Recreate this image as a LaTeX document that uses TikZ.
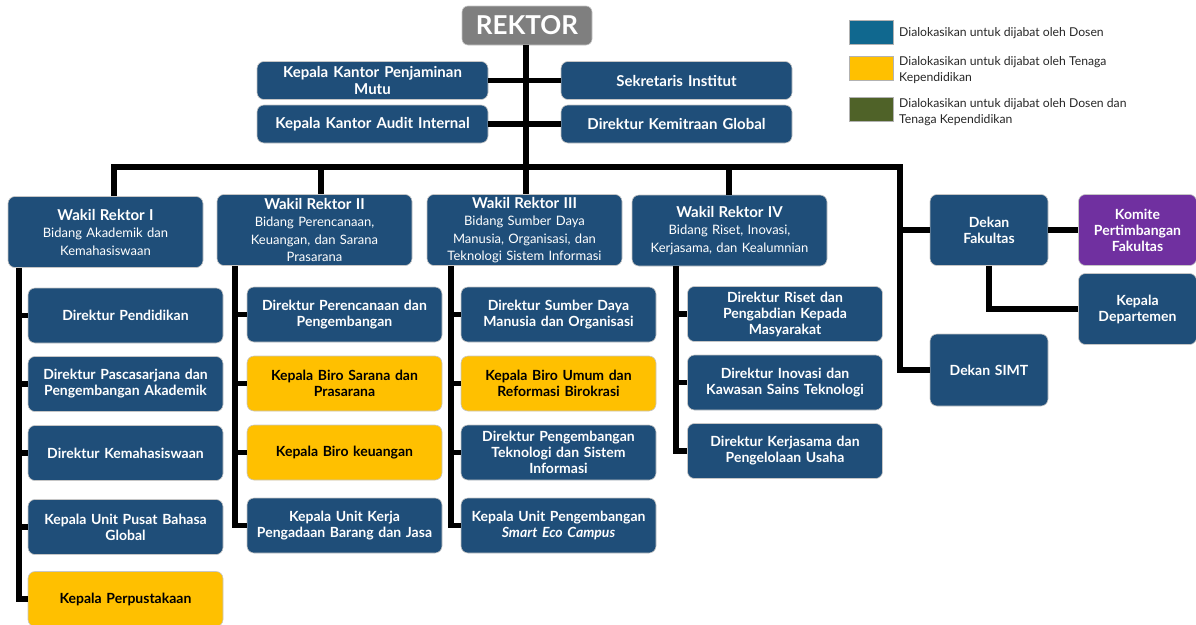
\documentclass[tikz,border=0pt]{standalone}
\usepackage{fontspec}
\setmainfont{Lato}
\definecolor{navy}{HTML}{1F4E79}
\definecolor{emas}{HTML}{FFC000}
\definecolor{ungu}{HTML}{7030A0}
\definecolor{abu}{HTML}{7F7F7F}
\definecolor{legbiru}{HTML}{10688F}
\definecolor{legzaitun}{HTML}{4F6228}
\begin{document}
\begin{tikzpicture}[x=1pt,y=-1pt,
  box/.style={draw=gray!45, line width=0.6pt, rounded corners=7pt, fill=navy, text=white,
    align=center, inner sep=0pt, font=\bfseries\fontsize{14}{16}\selectfont},
  unit/.style={box, minimum width=195pt, minimum height=55pt, text width=190pt},
  staf/.style={unit, fill=emas, text=black},
  wakil/.style={box, minimum width=195pt, minimum height=71pt, text width=190pt,
    font=\fontsize{13}{17.5}\selectfont},
  dekan/.style={box, minimum width=118pt, minimum height=71pt, text width=112pt},
  kantor/.style={box, minimum width=231pt, minimum height=38pt, text width=225pt,
    font=\bfseries\fontsize{15}{17}\selectfont},
  conn/.style={line width=5.5pt},
  legbox/.style={draw=gray!60, line width=0.6pt, minimum width=44pt, minimum height=24pt, inner sep=0pt},
  legtext/.style={anchor=west, align=left, inner sep=0pt, text=black!85,
    font=\fontsize{12.2}{16}\selectfont}
]
\useasboundingbox (0,0) rectangle (1196,624);

% pimpinan
\node[box, fill=abu, minimum width=130pt, minimum height=39pt, rounded corners=6pt,
  font=\bfseries\fontsize{26}{28}\selectfont] (rektor) at (527,25.5) {REKTOR};

\node[kantor] (kkpm) at (372.5,80.5) {Kepala Kantor Penjaminan\\Mutu};
\node[kantor] (kkai) at (372.5,124) {Kepala Kantor Audit Internal};
\node[kantor] (sekr) at (676.5,80.5) {Sekretaris Institut};
\node[kantor] (dkg)  at (676.5,124) {Direktur Kemitraan Global};

% wakil rektor
\node[wakil] (wr1) at (105.5,232) {{\bfseries\fontsize{15}{17.5}\selectfont Wakil Rektor I}\\Bidang Akademik dan\\Kemahasiswaan};
\node[wakil] (wr2) at (314.5,230) {{\bfseries\fontsize{15}{17.5}\selectfont Wakil Rektor II}\\Bidang Perencanaan,\\Keuangan, dan Sarana\\Prasarana};
\node[wakil] (wr3) at (524.5,230) {{\bfseries\fontsize{15}{17.5}\selectfont Wakil Rektor III}\\Bidang Sumber Daya\\Manusia, Organisasi, dan\\Teknologi Sistem Informasi};
\node[wakil] (wr4) at (729.5,230.5) {{\bfseries\fontsize{15}{17.5}\selectfont Wakil Rektor IV}\\Bidang Riset, Inovasi,\\Kerjasama, dan Kealumnian};

% dekan
\node[dekan] (dekanfak)  at (989,230) {Dekan\\Fakultas};
\node[dekan, fill=ungu] (komite) at (1137.5,230) {Komite\\Pertimbangan\\Fakultas};
\node[dekan] (kadep)     at (1137.5,309) {Kepala\\Departemen};
\node[dekan, minimum height=72pt] (dekansimt) at (989,370) {Dekan SIMT};

% bidang I
\node[unit] (pendidikan)    at (125.5,315.5) {Direktur Pendidikan};
\node[unit] (pasca)         at (125.5,384) {Direktur Pascasarjana dan\\Pengembangan Akademik};
\node[unit] (kemahasiswaan) at (125.5,453) {Direktur Kemahasiswaan};
\node[unit] (bahasa)        at (125.5,527) {Kepala Unit Pusat Bahasa\\Global};
\node[staf] (perpus)        at (125.5,599) {Kepala Perpustakaan};

% bidang II
\node[unit] (perencanaan) at (344.5,314.5) {Direktur Perencanaan dan\\Pengembangan};
\node[staf] (sarana)      at (344.5,383.5) {Kepala Biro Sarana dan\\Prasarana};
\node[staf] (keuangan)    at (344.5,452.5) {Kepala Biro keuangan};
\node[unit] (unitkerja)   at (344.5,525.5) {Kepala Unit Kerja\\Pengadaan Barang dan Jasa};

% bidang III
\node[unit] (sdm)       at (558.5,314.5) {Direktur Sumber Daya\\Manusia dan Organisasi};
\node[staf] (biroumum)  at (558.5,383.5) {Kepala Biro Umum dan\\Reformasi Birokrasi};
\node[unit] (teknologi) at (558.5,452.5) {Direktur Pengembangan\\Teknologi dan Sistem\\Informasi};
\node[unit] (smarteco)  at (558.5,525.5) {Kepala Unit Pengembangan\\\textit{Smart Eco Campus}};

% bidang IV
\node[unit] (riset)     at (785,314) {Direktur Riset dan\\Pengabdian Kepada\\Masyarakat};
\node[unit] (inovasi)   at (785,382.5) {Direktur Inovasi dan\\Kawasan Sains Teknologi};
\node[unit] (kerjasama) at (785,451) {Direktur Kerjasama dan\\Pengelolaan Usaha};

% garis
\coordinate (b1) at (114,167);
\coordinate (b2) at (321,167);
\coordinate (b4) at (729,167);
\coordinate (b5) at (900,167);
\coordinate (k1) at (19,267);
\coordinate (k2) at (235,266);
\coordinate (k3) at (451,266);
\coordinate (k4) at (676,266);

\draw[conn] (rektor.south -| wr3.north) ++(1.5,0) coordinate (top) -- (top |- wr3.north);
\draw[conn] (kkpm.east) -- (sekr.west);
\draw[conn] (kkai.east) -- (dkg.west);
\draw[conn] (b1 |- wr1.north) -- (b1) -- (b5) |- (dekansimt.west);
\draw[conn] (b2) -- (b2 |- wr2.north);
\draw[conn] (b4) -- (b4 |- wr4.north);
\draw[conn] (dekanfak.west -| b5) -- (dekanfak.west);
\draw[conn] (dekanfak.east) -- (komite.west);
\draw[conn] (dekanfak.south) |- (kadep.west);

\draw[conn] (wr1.south -| k1) |- (perpus.west);
\foreach \n in {pendidikan,pasca,kemahasiswaan,bahasa}
  \draw[conn] (\n.west -| k1) -- (\n.west);
\draw[conn] (wr2.south -| k2) |- (unitkerja.west);
\foreach \n in {perencanaan,sarana,keuangan}
  \draw[conn] (\n.west -| k2) -- (\n.west);
\draw[conn] (wr3.south -| k3) |- (smarteco.west);
\foreach \n in {sdm,biroumum,teknologi}
  \draw[conn] (\n.west -| k3) -- (\n.west);
\draw[conn] (wr4.south -| k4) |- (kerjasama.west);
\foreach \n in {riset,inovasi}
  \draw[conn] (\n.west -| k4) -- (\n.west);

% keterangan
\node[legbox, fill=legbiru] (leg1) at (871,32.5) {};
\node[legbox, fill=emas] (leg2) at (871,68) {};
\node[legbox, fill=legzaitun] (leg3) at (871,109) {};
\node[legtext] (ket1) at (899,33) {Dialokasikan untuk dijabat oleh Dosen};
\node[legtext] (ket2) at (899,70) {Dialokasikan untuk dijabat oleh Tenaga\\Kependidikan};
\node[legtext] (ket3) at (899,112.5) {Dialokasikan untuk dijabat oleh Dosen dan\\Tenaga Kependidikan};
\end{tikzpicture}
\end{document}
